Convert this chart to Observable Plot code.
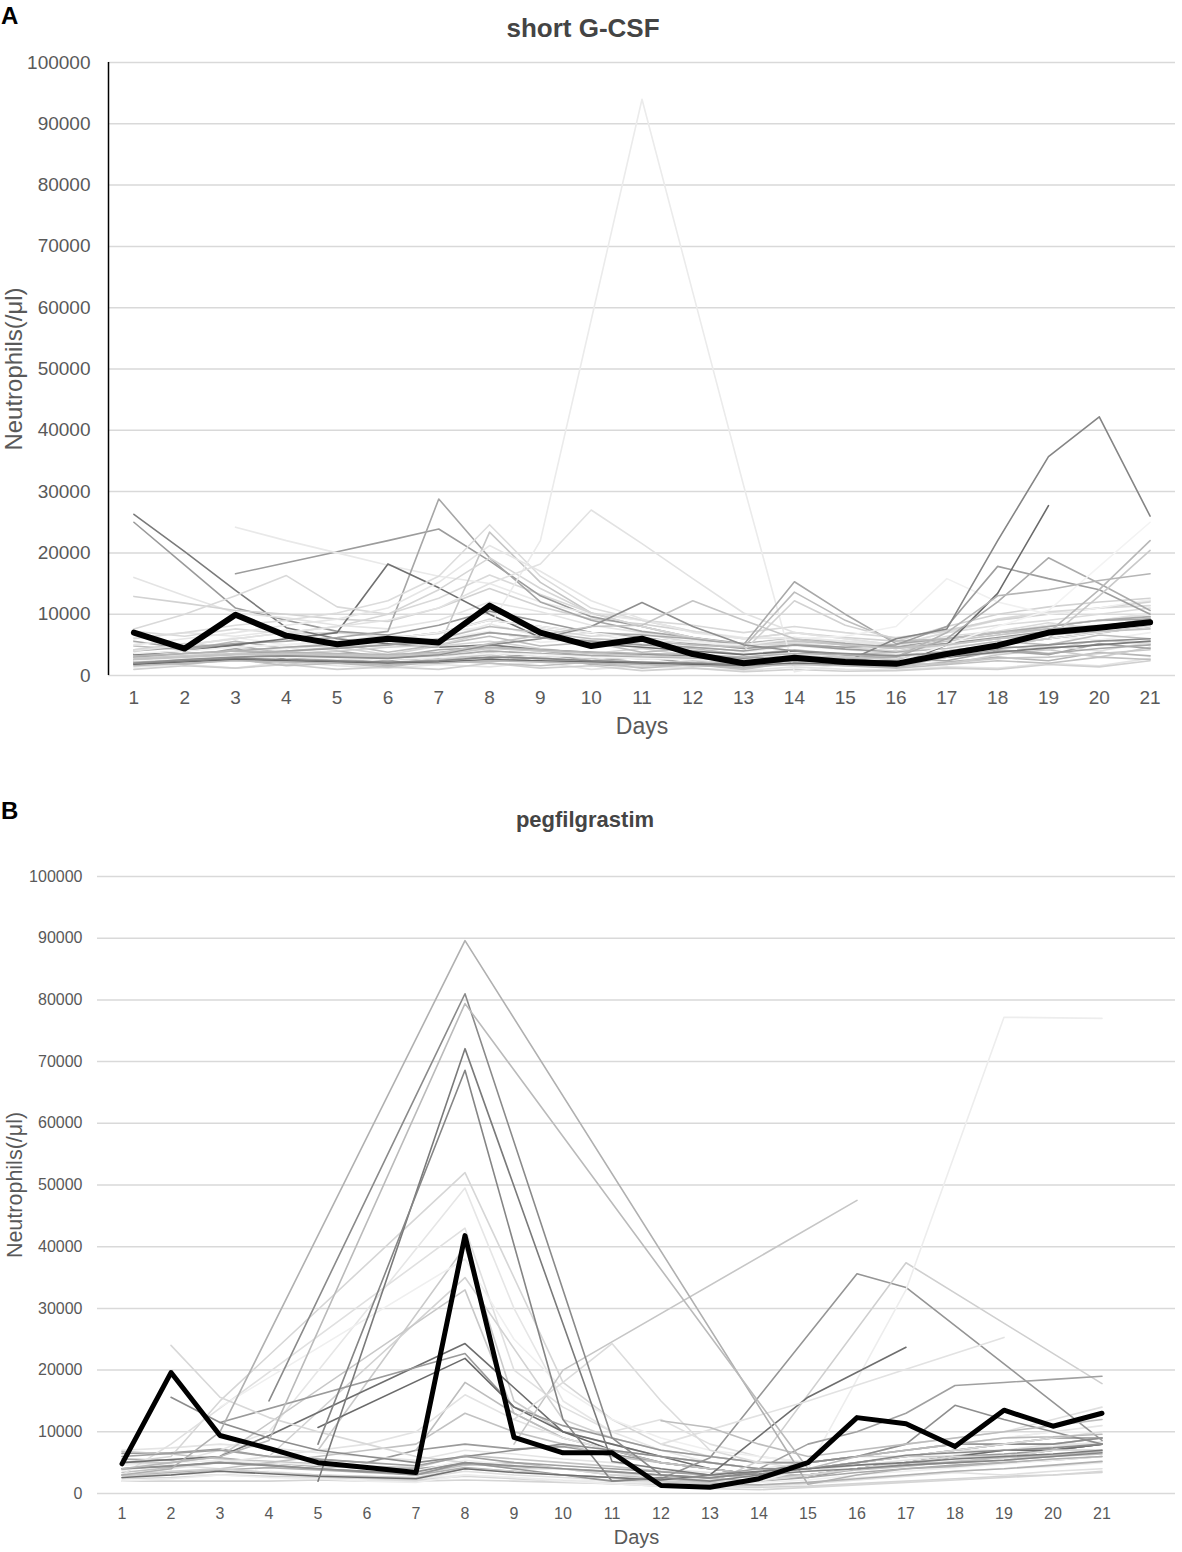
<!DOCTYPE html>
<html><head><meta charset="utf-8">
<script src="https://cdn.jsdelivr.net/npm/d3@7"></script>
<script src="https://cdn.jsdelivr.net/npm/@observablehq/plot@0.6"></script>
<style>
body{margin:0;background:#fff;font-family:"Liberation Sans",Arial,sans-serif;}
#wrap{position:relative;width:1182px;height:1552px;overflow:hidden;background:#fff}
.panel{position:absolute;left:0}
.letter{position:absolute;left:1px;font-weight:bold;color:#000;line-height:1}
.title{position:absolute;transform:translateX(-50%);white-space:nowrap;font-weight:bold;color:#444;line-height:1}
</style></head>
<body><div id="wrap">
<div id="pa" class="panel" style="top:0"></div>
<div id="pb" class="panel" style="top:780px"></div>
<div class="letter" style="top:4px;font-size:24px">A</div>
<div class="title" style="top:15px;left:583px;font-size:26px">short G-CSF</div>
<div class="letter" style="top:799px;font-size:24px">B</div>
<div class="title" style="top:809px;left:585px;font-size:22px">pegfilgrastim</div>
</div>
<script>
const _ = null;
const days = [1,2,3,4,5,6,7,8,9,10,11,12,13,14,15,16,17,18,19,20,21];
const yTicks = [0,10000,20000,30000,40000,50000,60000,70000,80000,90000,100000];

// ---- Panel A: short G-CSF (individual patients) ----
const a01 = [26300,20200,13900,7800,6000,5200,4600,5000,4200,3800,3500,3200,2800,3000,2600,2400,3000,3800,4500,5000,5600];
const a02 = [25000,18000,11000,9000,7200,6600,8200,10500,8800,7000,6200,5200,4400,5000,4300,3900,5200,6200,7200,8000,9200];
const a03 = [16000,13000,10200,9400,8200,7600,9000,12000,10400,8200,7000,6000,5200,6200,5400,5000,7000,9000,10200,11000,12200];
const a04 = [12900,11800,10600,10000,9200,8800,11000,14200,11200,9200,8400,7200,6000,7000,6200,5600,8000,10000,11200,12000,12600];
const a05 = [7600,10000,13000,16300,11200,10000,12600,16400,13200,10200,9000,8200,7000,8000,7000,6200,7200,9200,10400,11000,11400];
const a06 = [_,_,16600,18400,20200,22000,23900,18700,13000,9600,8000,6200,5000,6000,5200,4600,5200,6000,7000,8000,8600];
const a07 = [_,_,24200,22000,20000,18000,16200,15000,12000,10000,9000,7200,6200,6000,5200,5000,6200,7000,8200,9000,10000];
const a08 = [4000,4600,5200,5600,6200,7200,28800,19200,12000,9000,7200,6200,5200,6000,5200,4600,6000,7000,8000,9000,9200];
const a09 = [3400,4000,5000,6000,7000,18200,14300,10000,6200,5200,4600,4000,3400,4000,3400,3000,4000,5000,6000,7000,8000];
const a10 = [6000,7000,8200,9000,10200,12200,16200,24600,16200,11000,9000,7200,6000,7000,6000,5000,7000,8200,9000,10000,11000];
const a11 = [3000,3600,4000,4600,5200,5600,4600,23400,15200,10200,8000,6000,5000,5600,5000,4400,5600,6600,7600,8200,8600];
const a12 = [5000,6000,7000,8200,9200,11000,15200,21200,17000,12200,9200,7000,6000,6200,5600,5000,6000,7000,8200,9000,10200];
const a13 = [4200,5000,6000,7000,8000,10000,14000,19200,14200,10200,8000,6200,5000,5200,4600,4000,5000,6000,7000,8000,9000];
const a14 = [3000,3400,4000,4400,5000,6000,7000,8000,22000,58000,94000,62500,31000,600,2000,3000,4000,5000,6000,7000,8000];
const a15 = [4000,5000,6000,7000,8000,9000,11000,15000,18200,27000,21500,15800,10200,7000,6000,5000,6000,7000,8000,9000,10000];
const a16 = [3000,3600,4000,4600,5000,6000,7000,9000,8000,7000,6600,6000,5000,15300,10000,5200,6000,7000,8000,9000,9600];
const a17 = [2600,3000,3600,4000,4600,5000,6000,8000,7000,6000,5600,5000,4600,13600,9000,5600,6000,7000,7600,8000,8600];
const a18 = [2000,2600,3000,3600,4000,4600,5000,7000,6200,5600,5000,4600,4000,12200,8200,6000,7400,9000,10000,11000,12000];
const a19 = [3600,4000,4600,5000,5600,6000,7000,9000,8000,7000,6000,5400,5000,6000,6400,8000,15800,12000,10000,11000,12400];
const a20 = [2400,3000,3400,4000,4400,5000,5600,7000,6200,5600,5000,4600,4000,5000,4600,5000,8000,17800,15800,14000,10000];
const a21 = [2000,2400,2800,2600,2400,2200,2400,3000,2800,2400,2200,2000,1800,2400,2200,6000,7600,22000,35700,42200,26000];
const a22 = [1800,2200,2600,2400,2200,2000,2200,2600,2400,2200,2000,1800,1600,2000,1800,1600,5000,13400,27700,_,_];
const a23 = [2200,2800,3200,3400,3000,2800,3200,4000,3600,3200,3000,2800,2400,3000,2800,3000,6000,12000,19200,15000,10600];
const a24 = [1600,2000,2400,2200,2000,1800,2000,2400,2200,2000,1800,1600,1400,1800,1600,1400,3000,5000,7000,14000,22000];
const a25 = [2800,3200,3600,3400,3200,3000,3400,4400,4000,3600,3200,3000,2600,3200,3000,2600,4000,5000,6000,13000,20400];
const a26 = [2400,2800,3200,3000,2800,2600,3000,3600,3400,3000,2800,2600,2200,2600,2400,2200,5000,8000,10600,17800,25000];
const a27 = [3200,3600,4000,3800,3600,3400,3800,4600,4200,3800,3600,3400,3000,3600,3400,3000,7000,13000,14000,15500,16600];
const a28 = [2000,2600,3000,3200,3000,2800,3400,5000,6000,8000,11900,8000,5000,4000,3600,3200,3800,4400,5000,5600,6000];
const a29 = [2600,3000,3400,3600,3400,3200,3600,5200,6600,8000,8200,12200,9000,6000,5000,4400,5000,6000,6600,7200,7600];
const a30 = [2000,3200,2600,1800,2400,1600,2800,2200,3000,1800,1400,2000,1200,2600,1800,1400,2200,3000,2400,3800,3200];
const a31 = [3000,2600,4200,3400,2400,3000,2200,3800,2600,3200,2000,1600,2400,1800,2800,2000,1800,3400,4200,3000,4600];
const a32 = [1400,1800,1200,2200,1600,1200,1800,1400,2200,1000,1600,1200,800,1400,1000,900,1400,1200,2000,1600,2800];
const a33 = [4200,5200,4600,3800,4600,3400,4800,5600,4400,3600,4400,3200,2800,4000,3000,3400,3800,4800,4200,5800,5200];
const a34 = [5400,4800,6200,5000,5800,4600,6000,7200,5400,6000,4600,5000,3800,4800,4200,3600,4800,5200,6400,5800,7000];
const a35 = [3600,3000,4400,2600,3200,2400,3400,2800,3600,2400,3000,2000,2400,2800,2200,2600,2400,4000,3400,5200,4400];
const a36 = [2600,3600,3000,3800,2400,3200,2600,4200,3000,3400,2600,3000,2000,3400,2400,2000,3200,3600,4800,4000,5400];
const a37 = [1000,1600,1200,1800,1000,1400,1000,2000,1200,1600,800,1200,600,1000,700,800,1200,1000,1800,1400,2400];
const a38 = [4800,4200,5600,4400,5200,3800,5000,6400,4800,5400,3800,4400,3400,4200,3400,3800,4400,5600,5000,6600,6000];
const a39 = [6200,7000,6400,7400,5600,6600,5800,8400,6400,7000,5200,5800,4400,5400,4400,4800,5800,6600,7600,6800,8200];
const a40 = [1800,2400,3000,2200,2800,2000,2600,3400,2200,2800,1800,2400,1600,2000,2400,1600,2000,2800,3000,3600,4200];
const a41 = [5600,4400,5000,3400,4000,3000,4200,4600,4000,3200,3600,2600,2200,3000,2400,2200,3000,4200,3600,4400,5000];
const a42 = [7200,6400,7600,6800,7000,6200,6800,9200,7600,6400,6800,5400,4800,5800,5000,4400,6400,7200,8600,7600,9400];
const a43 = [2200,1800,2600,1600,2000,1400,2400,2000,1600,2200,1200,1800,1000,2200,1600,1200,1800,2400,2000,3000,2600];
const meanA = [7000,4400,9900,6500,5100,6000,5400,11400,7000,4800,6000,3500,2000,2900,2200,1900,3500,4900,7000,7800,8700];

const seriesA = [a30,a31,a32,a33,a34,a35,a36,a37,a38,a39,a40,a41,a42,a43,
  a01,a02,a03,a04,a05,a06,a07,a08,a09,a10,a11,a12,a13,a14,a15,a16,a17,a18,a19,a20,a21,a22,a23,a24,a25,a26,a27,a28,a29];
const greysA = ["#b4b4b4","#cccccc","#e4e4e4","#d4d4d4","#efefef","#a4a4a4","#e0e0e0","#d0d0d0","#bcbcbc","#e8e8e8","#c8c8c8","#a8a8a8","#dadada","#c0c0c0",
  "#7a7a7a","#9a9a9a","#e4e4e4","#d2d2d2","#d9d9d9","#9c9c9c","#e9e9e9","#a6a6a6","#707070","#dcdcdc","#c6c6c6","#e6e6e6","#d6d6d6","#ebebeb","#e2e2e2","#a8a8a8","#bdbdbd","#d2d2d2","#f0f0f0","#9e9e9e","#858585","#6a6a6a","#ababab","#b8b8b8","#c9c9c9","#f3f3f3","#b5b5b5","#8e8e8e","#c4c4c4"];

// ---- Panel B: pegfilgrastim (individual patients) ----
const b01 = [3000,4000,10000,_,_,_,_,89600,_,_,_,_,_,_,1500,3000,4000,4400,5000,5600,6000];
const b02 = [_,_,_,15000,_,_,_,81000,_,_,9000,3000,2600,3200,4000,5000,6200,6600,7000,7400,8000];
const b03 = [4000,5000,6000,8600,_,_,_,79400,_,_,_,_,_,_,4000,6000,7000,8000,9000,9200,9600];
const b04 = [_,_,_,_,2000,_,_,72100,_,_,5200,4000,3000,3600,4000,4600,5000,5600,6000,6400,7000];
const b05 = [_,_,_,_,8000,_,_,68600,_,12000,2000,2600,2000,3000,3600,4000,4600,5000,5400,6000,6600];
const b06 = [5000,6000,15000,_,_,_,_,52000,_,18000,12000,8000,6000,5000,5000,6000,7000,8000,8000,9000,9000];
const b07 = [4000,5000,7000,10000,_,_,_,49500,30000,15000,10000,7000,5000,4000,5000,6000,7000,8000,9000,10000,11000];
const b08 = [3000,8000,_,_,_,_,_,43000,20000,14000,10000,12000,8000,6000,5000,6000,8000,9000,10000,12000,14000];
const b09 = [_,_,_,_,7000,_,_,40000,15000,10000,8000,6000,5000,4000,4000,5000,6000,7000,8000,8000,9000];
const b10 = [_,_,14000,_,_,_,_,38000,25000,17000,12000,9000,7000,6000,5000,6000,7000,8000,9000,10000,10000];
const b11 = [_,_,_,6000,_,_,_,35000,_,12000,9000,7000,6000,5000,5000,6000,6000,7000,8000,8000,9000];
const b12 = [5000,5000,6000,_,_,_,_,33000,13000,9000,7000,6000,5000,4000,4000,5000,6000,6000,7000,7000,8000];
const b13 = [5000,5500,6000,9400,_,_,_,24300,_,10000,8000,6000,4000,3000,3000,4000,5000,6000,6000,7000,8000];
const b14 = [_,_,11500,_,_,_,_,22700,14000,11000,9000,7000,6000,5000,5000,6000,7000,8000,8000,9000,9000];
const b15 = [_,_,_,_,10700,_,_,21900,14000,10000,7000,5000,4000,3000,3000,4000,5000,6000,7000,7000,8000];
const b16 = [_,_,_,_,_,_,7000,18000,13000,9000,7000,5000,4000,3000,3000,4000,5000,5000,6000,6000,7000];
const b17 = [3000,4000,5000,6000,7000,8000,10000,16000,12000,9000,7000,6000,5000,4000,4000,5000,6000,7000,7000,8000,8000];
const b18 = [3000,3000,4000,5000,6000,7000,8000,13000,10000,8000,6000,5000,4000,3000,3000,4000,5000,6000,6000,7000,7000];
const b19 = [_,24000,15600,12300,10000,8000,6000,5000,4000,4000,3000,3000,2000,2000,3000,4000,5000,6000,6000,7000,7000];
const b20 = [_,15600,11500,9000,7000,6000,5000,6000,7000,8000,7000,6000,5000,4000,4000,5000,6000,7000,8000,8000,9000];
const b21 = [_,_,_,_,_,_,_,_,8000,20000,_,_,_,_,_,47500,_,_,_,_,_];
const b22 = [4000,4400,5000,4600,4000,3600,3000,5000,4000,3000,2000,2400,5800,_,_,35600,33400,_,_,_,8600];
const b23 = [3000,3600,4000,3400,3000,2800,2600,4000,3600,3000,2600,2000,1600,5300,_,_,37400,_,_,_,17800];
const b24 = [2000,2400,3000,2600,2400,2000,1800,3000,2600,2000,1600,1200,1000,2000,4000,_,33000,_,77200,_,77000];
const b25 = [2600,3000,3600,3200,2800,2600,2400,4000,3400,3000,2600,2200,3000,_,15600,_,23700,_,_,_,_];
const b26 = [_,_,_,_,_,_,_,_,_,_,_,8000,_,_,15000,_,_,_,25300,_,_];
const b27 = [6000,6500,7000,6000,5500,5000,4500,6000,5000,4500,4000,3500,3000,4000,8000,10000,13000,17500,18000,18500,19000];
const b28 = [4000,4500,5000,4500,4000,3500,3500,5000,4500,4000,3500,3000,2500,3500,5000,6000,8000,14300,12000,10000,8000];
const b29 = [_,_,_,_,_,_,_,_,12000,18000,24300,15000,7000,5000,4000,5000,6000,7000,8000,9000,10000];
const b30 = [_,_,_,_,_,_,_,_,_,_,_,11800,10700,8000,6000,7000,8000,9000,10000,11000,12000];
const b31 = [6500,6600,7200,6000,5600,5000,7000,8000,7200,7600,6400,5000,4000,3000,2600,4000,5000,6000,6400,7000,8000];
const b32 = [3400,4200,5200,4600,4000,3600,3200,4600,5000,4000,3000,2400,1800,2400,3000,4000,4600,5000,5400,6000,6400];
const b33 = [2600,3200,3000,3600,3000,2800,2400,3000,2600,2200,2000,1600,1200,1400,1800,2600,3000,3600,4000,4400,5000];
const b34 = [2000,2000,2000,2000,2200,2000,2000,2200,2000,1800,1600,1400,1200,1000,1200,1600,2000,2400,2800,3000,3400];
const b35 = [5600,5400,5800,5000,4400,4200,4000,4800,4400,4000,3600,3000,2400,2000,2600,3400,4000,4600,5000,5400,6000];
const b36 = [3800,4600,4000,3400,3000,2600,2400,3600,3000,2600,2200,1800,1400,1200,1600,2200,2800,3400,3000,3600,4000];
const b37 = [6800,6400,5600,5200,4800,4400,4200,6200,5600,5000,4400,3600,3000,2600,3000,3800,4400,5200,5800,6200,6800];
const b38 = [4600,5000,5400,5000,4600,4000,3600,5400,4600,4000,3400,2800,2200,1800,2200,3000,3600,4200,4800,5400,6000];
const b39 = [3000,3400,3800,4200,3800,3400,3000,4200,3600,3000,2600,2000,1600,1400,1800,2400,3000,3600,4000,4600,5200];
const b40 = [7000,7400,8000,7400,6600,6000,5400,7000,6400,5600,5000,4000,3400,3000,3600,4600,5400,6200,7000,7600,8400];
const b41 = [2400,2600,3000,2800,2600,2400,2200,2800,2400,2000,1600,1200,800,600,1000,1400,1800,2200,2600,3000,3600];
const meanB = [4800,19600,9400,7300,5000,4200,3400,41800,9100,6600,6600,1300,1000,2400,5000,12300,11300,7600,13500,10900,13000];

const seriesB = [b31,b32,b33,b34,b35,b36,b37,b38,b39,b40,b41,
  b06,b07,b08,b09,b10,b11,b12,b13,b14,b15,b16,b17,b18,b19,b20,b21,b22,b23,b24,b25,b26,b27,b28,b29,b30,b01,b02,b03,b04,b05];
const greysB = ["#9a9a9a","#c0c0c0","#ececec","#d4d4d4","#a8a8a8","#e0e0e0","#c4c4c4","#efefef","#b0b0b0","#e4e4e4","#d6d6d6",
  "#d6d6d6","#e6e6e6","#e0e0e0","#cacaca","#efefef","#d2d2d2","#c8c8c8","#6e6e6e","#9a9a9a","#6a6a6a","#bdbdbd","#e3e3e3","#c2c2c2","#d8d8d8","#8c8c8c","#c6c6c6","#959595","#cfcfcf","#ededed","#6e6e6e","#e2e2e2","#a0a0a0","#8e8e8e","#dcdcdc","#bdbdbd","#b0b0b0","#8a8a8a","#bababa","#7a7a7a","#858585"];

function pts(arr) {
  return days.map((d, i) => ({day: d, value: arr[i]})).filter(p => p.value != null);
}

function panel(cfg) {
  const marks = [
    Plot.gridY(yTicks, {stroke: "#d9d9d9", strokeOpacity: 1, strokeWidth: 1.5})
  ];
  if (cfg.axisLine) marks.push(Plot.ruleX([cfg.xDomain[0]], {stroke: "#000", strokeWidth: 1.5}));
  cfg.series.forEach((s, i) => {
    marks.push(Plot.line(pts(s), {x: "day", y: "value", stroke: cfg.greys[i], strokeWidth: 1.6}));
  });
  marks.push(Plot.line(pts(cfg.mean), {x: "day", y: "value", stroke: "#000", strokeWidth: cfg.meanWidth}));
  marks.push(Plot.axisY(yTicks, {tickSize: 0, tickPadding: cfg.yPad, fontSize: cfg.tickFont, label: null, tickFormat: d => String(d), fill: "#595959"}));
  marks.push(Plot.axisX(days, {tickSize: 0, tickPadding: cfg.xPad, fontSize: cfg.tickFont, label: null, tickFormat: d => String(d), fill: "#595959"}));
  marks.push(Plot.text(["Days"], {frameAnchor: "bottom", dy: cfg.daysDy, lineAnchor: "bottom", fontSize: cfg.daysFont, fill: "#595959"}));
  marks.push(Plot.text(["Neutrophils(/μl)"], {frameAnchor: "left", textAnchor: "middle", rotate: -90, dx: cfg.yLabelDx, lineAnchor: "top", fontSize: cfg.yLabelFont, fill: "#595959"}));
  return Plot.plot({
    width: 1182, height: cfg.height,
    marginTop: cfg.mt, marginBottom: cfg.mb, marginLeft: cfg.ml, marginRight: 7,
    style: {fontFamily: "'Liberation Sans', Arial, sans-serif", background: "transparent", overflow: "visible"},
    x: {domain: cfg.xDomain},
    y: {domain: [0, 100000]},
    marks
  });
}

document.getElementById("pa").appendChild(panel({
  height: 760, mt: 62, mb: 85, ml: 108, xDomain: [0.5, 21.5], axisLine: true,
  series: seriesA, greys: greysA, mean: meanA, meanWidth: 6,
  yPad: 18, xPad: 15, tickFont: 19, daysFont: 23, yLabelFont: 24, daysDy: 58, yLabelDx: -104
}));
document.getElementById("pb").appendChild(panel({
  height: 772, mt: 96, mb: 59, ml: 97, xDomain: [0.5, 22.5], axisLine: false,
  series: seriesB, greys: greysB, mean: meanB, meanWidth: 5,
  yPad: 15, xPad: 14, tickFont: 16, daysFont: 20, yLabelFont: 21.5, daysDy: 50, yLabelDx: -91
}));
</script>
</body></html>
